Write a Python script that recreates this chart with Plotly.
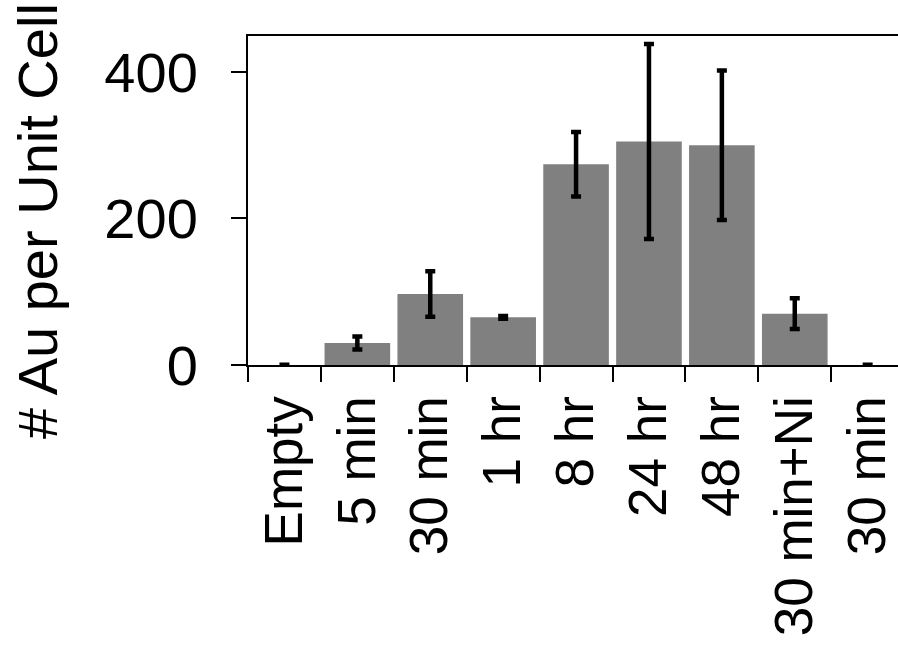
import plotly.graph_objects as go

categories = ["Empty", "5 min", "30 min", "1 hr", "8 hr", "24 hr", "48 hr", "30 min+Ni", "30 min"]
values = [0, 30, 97, 65, 274, 305, 300, 70, 0]
errors = [0.5, 9, 31, 2, 44, 133, 102, 21, 0.5]
y_ticks = [0, 200, 400]
y_title = "# Au per Unit Cell"

x_pos = list(range(len(categories)))
FONT = "Liberation Sans, Arial, sans-serif"
FS = 56

fig = go.Figure()
fig.add_trace(go.Bar(
    x=x_pos, y=values,
    marker=dict(color="#808080", line=dict(width=0)),
    error_y=dict(type="data", array=errors, symmetric=True,
                 color="black", thickness=4.5, width=5),
    showlegend=False,
))

fig.update_layout(
    width=898, height=645,
    margin=dict(l=248, r=0, t=36, b=280, autoexpand=False),
    paper_bgcolor="white", plot_bgcolor="white",
    bargap=0.1,
    font=dict(family=FONT, size=FS, color="black"),
    xaxis=dict(
        range=[-0.5, 8.416], automargin=False,
        tickmode="array", tickvals=x_pos, ticktext=categories,
        tickangle=-90, ticks="", showline=True, linecolor="black",
        linewidth=2, mirror=True, showgrid=False, zeroline=False,
        tickfont=dict(family=FONT, size=53, color="black"),
        minor=dict(tick0=-0.5, dtick=1, ticks="outside", ticklen=15,
                   tickwidth=2, tickcolor="black", showgrid=False),
        ticklabelstandoff=8,
    ),
    yaxis=dict(
        range=[0, 449], automargin=False, tickvals=y_ticks, ticks="outside", ticklen=15,
        tickwidth=2, tickcolor="black", showline=True, linecolor="black",
        linewidth=2, showgrid=False, zeroline=False,
        tickfont=dict(family=FONT, size=FS, color="black"),
        ticklabelstandoff=22,
    ),
    annotations=[dict(
        text=y_title, textangle=-90, xref="paper", yref="paper",
        x=-0.323, y=0.438, xanchor="center", yanchor="middle",
        showarrow=False, font=dict(family=FONT, size=FS, color="black"),
    )],
)

fig.write_html("out.html")
